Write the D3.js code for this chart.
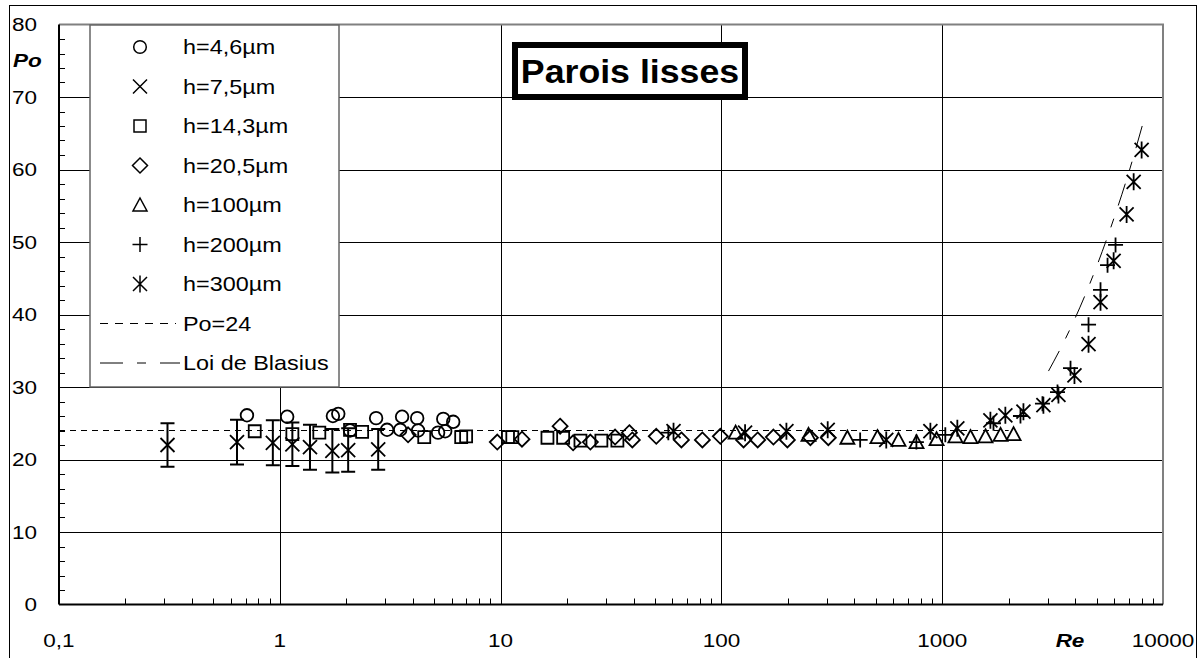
<!DOCTYPE html>
<html>
<head>
<meta charset="utf-8">
<script src="https://cdn.jsdelivr.net/npm/d3@7"></script>
<style>
  html, body { margin: 0; padding: 0; background: #fff; }
  svg { display: block; font-family: Arial, "Liberation Sans", sans-serif; }
</style>
</head>
<body>
<svg id="chart" width="1202" height="658"></svg>
<script>
// h=4,6µm (circles)
const reH46 = [0.71, 1.08, 1.74, 1.84, 2.08, 2.73, 3.06, 3.51, 3.58, 4.19, 4.23, 5.21, 5.50, 5.61, 6.10];
const poH46 = [26.1, 25.9, 26.0, 26.3, 24.0, 25.7, 24.1, 24.1, 25.9, 25.7, 24.0, 23.7, 25.6, 23.9, 25.2];

// h=7,5µm (crosses, with error bars)
const reH75 = [0.31, 0.64, 0.93, 1.14, 1.37, 1.73, 2.04, 2.79];
const poH75 = [22.0, 22.4, 22.3, 22.1, 21.7, 21.2, 21.3, 21.4];
const errH75 = [3.0, 3.1, 3.1, 3.0, 3.1, 3.0, 3.0, 2.8];

// h=14,3µm (squares)
const reH143 = [0.77, 1.14, 1.51, 2.08, 2.36, 4.51, 6.63, 6.98, 10.8, 11.3, 16.3, 19.2, 23.0, 28.6, 33.8];
const poH143 = [23.9, 23.5, 23.7, 24.1, 23.8, 23.1, 23.1, 23.2, 23.1, 23.1, 23.0, 23.0, 22.6, 22.6, 22.6];

// h=20,5µm (diamonds)
const reH205 = [3.81, 9.66, 12.5, 18.6, 21.3, 25.5, 33.0, 38.3, 39.5, 50.7, 65.9, 82.0, 98.9, 126, 146, 172, 199, 253, 305];
const poH205 = [23.4, 22.4, 22.8, 24.6, 22.3, 22.4, 23.1, 23.7, 22.7, 23.2, 22.7, 22.7, 23.2, 22.7, 22.7, 23.1, 22.7, 23.0, 23.0];

// h=100µm (triangles)
const reH100 = [116, 248, 372, 509, 634, 765, 943, 1148, 1343, 1571, 1838, 2105];
const poH100 = [23.7, 23.4, 23.0, 23.1, 22.7, 22.4, 22.8, 23.2, 23.1, 23.2, 23.4, 23.5];

// h=200µm (plus)
const reH200 = [57.5, 425, 764, 1033, 1707, 2262, 2845, 3328, 3812, 4600, 5212, 5608, 6096];
const poH200 = [23.7, 22.7, 22.4, 23.4, 25.0, 26.0, 27.7, 29.3, 32.6, 38.6, 43.4, 46.8, 49.6];

// h=300µm (asterisks)
const reH300 = [60.7, 128, 197, 303, 558, 884, 1171, 1653, 1932, 2333, 2873, 3361, 3972, 4600, 5212, 5976, 6842, 7364, 8002];
const poH300 = [23.9, 23.7, 23.9, 24.1, 22.7, 23.9, 24.3, 25.4, 26.1, 26.6, 27.5, 28.9, 31.6, 35.9, 41.7, 47.4, 53.8, 58.3, 62.7];

// reference lines
const rePo24 = [0.1, 2000];
const poPo24 = [24, 24];
const reBlasius = [3030, 3500, 4000, 5000, 6000, 7000, 8170];
const poBlasius = [32.2, 35.8, 39.5, 46.6, 53.3, 59.6, 66.7];

// axes
const xTicks = [0.1, 1, 10, 100, 1000, 10000];
const xTickLabels = ["0,1", "1", "10", "100", "1000", "10000"];
const yTicks = [0, 10, 20, 30, 40, 50, 60, 70, 80];
const yTickLabels = ["0", "10", "20", "30", "40", "50", "60", "70", "80"];

const legendLabels = ["h=4,6µm", "h=7,5µm", "h=14,3µm", "h=20,5µm", "h=100µm", "h=200µm", "h=300µm", "Po=24", "Loi de Blasius"];
const legendKinds = ["circle", "cross", "square", "diamond", "triangle", "plus", "star", "po24", "blasius"];

const series = [
  {kind: "circle", re: reH46, po: poH46},
  {kind: "square", re: reH143, po: poH143},
  {kind: "diamond", re: reH205, po: poH205},
  {kind: "triangle", re: reH100, po: poH100},
  {kind: "plus", re: reH200, po: poH200},
  {kind: "star", re: reH300, po: poH300},
  {kind: "cross", re: reH75, po: poH75, err: errH75}
];

const pLeft = 59, pRight = 1163, pTop = 24.5, pBottom = 604.5;

const x = d3.scaleLog().domain([0.1, 10000]).range([pLeft, pRight]);
const y = d3.scaleLinear().domain([0, 80]).range([pBottom, pTop]);

const svg = d3.select("#chart");

// outer frame
svg.append("rect")
    .attr("x", 9.5).attr("y", 5.5)
    .attr("width", 1187).attr("height", 700)
    .attr("fill", "#fff").attr("stroke", "#000").attr("stroke-width", 1);

const g = svg.append("g");

// horizontal grid
g.selectAll("line.hgrid")
  .data(yTicks.filter(v => v > 0 && v < 80))
  .join("line")
    .attr("class", "hgrid")
    .attr("x1", pLeft).attr("x2", pRight)
    .attr("y1", d => Math.round(y(d)) + 0.5).attr("y2", d => Math.round(y(d)) + 0.5)
    .attr("stroke", "#000").attr("stroke-width", 1);

// vertical grid
g.selectAll("line.vgrid")
  .data(xTicks.filter(v => v > 0.1 && v < 10000))
  .join("line")
    .attr("class", "vgrid")
    .attr("x1", d => Math.round(x(d)) + 0.5).attr("x2", d => Math.round(x(d)) + 0.5)
    .attr("y1", pTop).attr("y2", pBottom)
    .attr("stroke", "#000").attr("stroke-width", 1);

// top and right border (grey)
g.append("path")
    .attr("d", `M${pLeft},${pTop}H${pRight}V${pBottom}`)
    .attr("fill", "none").attr("stroke", "#808080").attr("stroke-width", 2);

// minor y ticks
const yMinor = d3.range(2, 80, 2).filter(v => v % 10 !== 0);
g.selectAll("line.ymin")
  .data(yMinor)
  .join("line")
    .attr("x1", pLeft).attr("x2", pLeft + 6)
    .attr("y1", d => Math.round(y(d)) + 0.5).attr("y2", d => Math.round(y(d)) + 0.5)
    .attr("stroke", "#000").attr("stroke-width", 1);

// minor x ticks
const xMinor = [];
[0.1, 1, 10, 100, 1000].forEach(dec => { for (let k = 2; k <= 9; k++) xMinor.push(dec * k); });
g.selectAll("line.xmin")
  .data(xMinor)
  .join("line")
    .attr("x1", d => Math.round(x(d)) + 0.5).attr("x2", d => Math.round(x(d)) + 0.5)
    .attr("y1", pBottom).attr("y2", pBottom - 6)
    .attr("stroke", "#000").attr("stroke-width", 1);

// axis lines
g.append("line")
    .attr("x1", pLeft).attr("x2", pLeft).attr("y1", pTop).attr("y2", pBottom)
    .attr("stroke", "#000").attr("stroke-width", 2);
g.append("line")
    .attr("x1", pLeft).attr("x2", pRight).attr("y1", pBottom).attr("y2", pBottom)
    .attr("stroke", "#000").attr("stroke-width", 2);

// stretched text helper
function label(sel, txt, cx, cy, size, anchor, sx, weight, style) {
  return sel.append("text")
      .attr("transform", `translate(${cx},${cy}) scale(${sx},1)`)
      .attr("text-anchor", anchor)
      .attr("font-size", size)
      .attr("font-weight", weight || "normal")
      .attr("font-style", style || "normal")
      .attr("fill", "#000")
      .text(txt);
}

xTicks.forEach((v, i) => label(g, xTickLabels[i], x(v), 647, 18, "middle", 1.25));
yTicks.forEach((v, i) => label(g, yTickLabels[i], 37, y(v) + 6.5, 18, "end", 1.25));
label(g, "Po", 13, 67, 18, "start", 1.25, "bold", "italic");
label(g, "Re", 1070, 647, 18, "middle", 1.25, "bold", "italic");

// reference lines
const line = d3.line().x(d => x(d[0])).y(d => y(d[1]));
g.append("path")
    .attr("d", line(d3.zip(rePo24, poPo24)))
    .attr("fill", "none").attr("stroke", "#000").attr("stroke-width", 1)
    .attr("stroke-dasharray", "6,5");
g.append("path")
    .attr("d", d3.line().curve(d3.curveMonotoneX).x(d => x(d[0])).y(d => y(d[1]))(d3.zip(reBlasius, poBlasius)))
    .attr("fill", "none").attr("stroke", "#000").attr("stroke-width", 1)
    .attr("stroke-dasharray", "23,14,9,14");

// marker shapes
function markerPath(kind) {
  switch (kind) {
    case "circle": return "M6.3,0A6.3,6.3 0 1,1 -6.3,0A6.3,6.3 0 1,1 6.3,0Z";
    case "cross": return "M-7,-7L7,7M-7,7L7,-7";
    case "square": return "M-6,-6H6V6H-6Z";
    case "diamond": return "M0,-7.5L7.5,0L0,7.5L-7.5,0Z";
    case "triangle": return "M0,-7L7,6H-7Z";
    case "plus": return "M-7.5,0H7.5M0,-7.5V7.5";
    case "star": return "M-7,-7L7,7M-7,7L7,-7M0,-8.5V8.5";
  }
  return "";
}

series.forEach(s => {
  const pts = d3.zip(s.re, s.po);
  const sg = g.append("g");
  if (s.err) {
    const eb = sg.selectAll("g.err").data(d3.zip(s.re, s.po, s.err)).join("g");
    eb.append("path")
        .attr("d", d => {
          const cx = x(d[0]), y1 = y(d[1] + d[2]), y2 = y(d[1] - d[2]);
          return `M${cx},${y1}V${y2}M${cx - 7},${y1}H${cx + 7}M${cx - 7},${y2}H${cx + 7}`;
        })
        .attr("fill", "none").attr("stroke", "#000").attr("stroke-width", 2);
  }
  sg.selectAll("path.m")
    .data(pts)
    .join("path")
      .attr("class", "m")
      .attr("transform", d => `translate(${x(d[0])},${y(d[1])})`)
      .attr("d", markerPath(s.kind))
      .attr("fill", "none").attr("stroke", "#000").attr("stroke-width", 1.8);
});

// legend
const lg = svg.append("g");
lg.append("rect")
    .attr("x", 90).attr("y", 25).attr("width", 249).attr("height", 362)
    .attr("fill", "#fff").attr("stroke", "#666").attr("stroke-width", 1.5);

legendLabels.forEach((t, i) => {
  const cy = 47 + i * 39.5;
  const k = legendKinds[i];
  if (k === "po24") {
    lg.append("line").attr("x1", 100).attr("x2", 176).attr("y1", cy).attr("y2", cy)
      .attr("stroke", "#000").attr("stroke-width", 1).attr("stroke-dasharray", "8,7");
  } else if (k === "blasius") {
    lg.append("line").attr("x1", 100).attr("x2", 180).attr("y1", cy).attr("y2", cy)
      .attr("stroke", "#000").attr("stroke-width", 1).attr("stroke-dasharray", "23,14,9,14");
  } else {
    lg.append("path").attr("transform", `translate(140,${cy})`)
      .attr("d", markerPath(k)).attr("fill", "none").attr("stroke", "#000").attr("stroke-width", 1.5);
  }
  label(lg, t, 183, cy + 7, 20, "start", 1.17);
});

// title box
svg.append("rect")
    .attr("x", 515).attr("y", 45).attr("width", 230).attr("height", 52)
    .attr("fill", "#fff").attr("stroke", "#000").attr("stroke-width", 6);
label(svg, "Parois lisses", 630, 83, 34, "middle", 1.05, "bold");
</script>
</body>
</html>
